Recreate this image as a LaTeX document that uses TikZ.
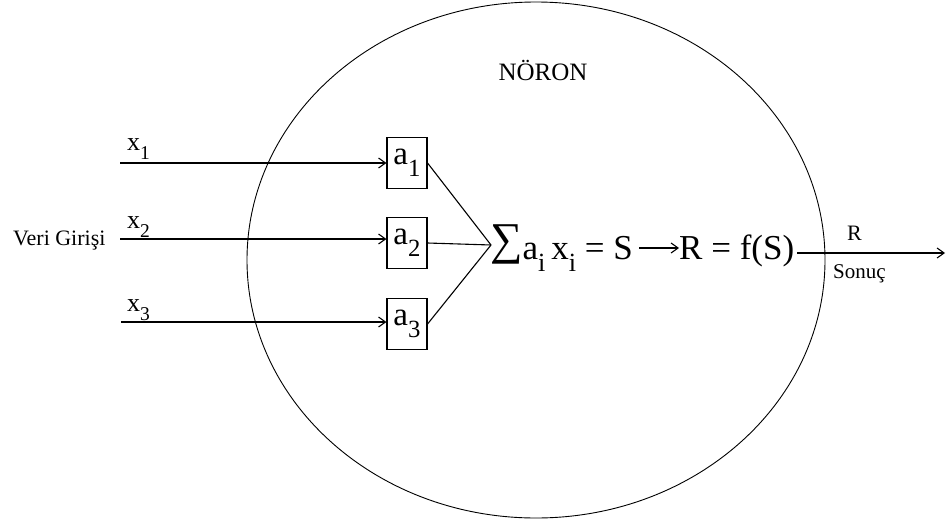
\documentclass[tikz,border=0pt]{standalone}
\usepackage{fontspec}
\setmainfont{Liberation Serif}
\usetikzlibrary{arrows.meta,shapes.geometric}
\newcommand{\lowsub}[1]{\raisebox{-0.36em}{\scalebox{0.75}{#1}}}
\begin{document}
\begin{tikzpicture}[x=1pt,y=-1pt,
  ln/.style={line width=1.1pt},
  arr/.style={line width=1.1pt,-{Straight Barb[length=7pt,width=10pt,line width=1.1pt]}},
  wbox/.style={draw,line width=1.1pt,minimum width=40pt,minimum height=51pt,inner sep=0pt,font=\rmfamily\fontsize{33}{36}\selectfont},
  lbl/.style={inner sep=0pt,anchor=base west},
]
\useasboundingbox (0,0) rectangle (947,525);
\node[draw,ellipse,line width=0.9pt,minimum width=578pt,minimum height=516pt,inner sep=0pt] (neuron) at (536,260) {};
\node[lbl,anchor=base,font=\rmfamily\fontsize{25}{28}\selectfont] (title) at (543,80) {NÖRON};

\node[wbox] (a1) at (407,163) {\raisebox{2pt}{a\lowsub{1}}};
\node[wbox] (a2) at (407,243) {\raisebox{2pt}{a\lowsub{2}}};
\node[wbox] (a3) at (407,324) {\raisebox{2pt}{a\lowsub{3}}};

\coordinate (in1) at (120,163);
\coordinate (in2) at (120,239);
\coordinate (in3) at (121,322);
\draw[arr] (in1) -- (in1 -| a1.west);
\draw[arr] (in2) -- (in2 -| a2.west);
\draw[arr] (in3) -- (in3 -| a3.west);

\node[lbl,font=\rmfamily\fontsize{26}{30}\selectfont] (x1) at (127,150) {x\lowsub{1}};
\node[lbl,font=\rmfamily\fontsize{26}{30}\selectfont] (x2) at (127,228) {x\lowsub{2}};
\node[lbl,font=\rmfamily\fontsize{26}{30}\selectfont] (x3) at (127,311) {x\lowsub{3}};
\node[lbl,font=\rmfamily\fontsize{22}{26}\selectfont] (veri) at (13,245) {Veri Girişi};

\coordinate (apex) at (491,245);
\draw[ln] (a1.east) -- (apex);
\draw[ln] (a2.east) -- (apex);
\draw[ln] (a3.east) -- (apex);

\node[lbl,font=\rmfamily\fontsize{35}{40}\selectfont] (sum) at (490,259) {\raisebox{5pt}{\scalebox{1.3}{∑}}a\lowsub{i}\,x\lowsub{i} = S};
\node[lbl,font=\rmfamily\fontsize{35}{40}\selectfont] (rf) at (679,259) {R = f(S)};
\coordinate (mid) at (0,248);
\draw[arr] (sum.east |- mid) ++(6,0) -- (rf.west |- mid);

\coordinate (out) at (945,253);
\draw[arr] (rf.east |- out) ++(3,0) -- (out);
\node[lbl,font=\rmfamily\fontsize{22}{26}\selectfont] (rlab) at (847,240) {R};
\node[lbl,font=\rmfamily\fontsize{21}{26}\selectfont] (sonuc) at (833,278) {Sonuç};
\end{tikzpicture}
\end{document}
